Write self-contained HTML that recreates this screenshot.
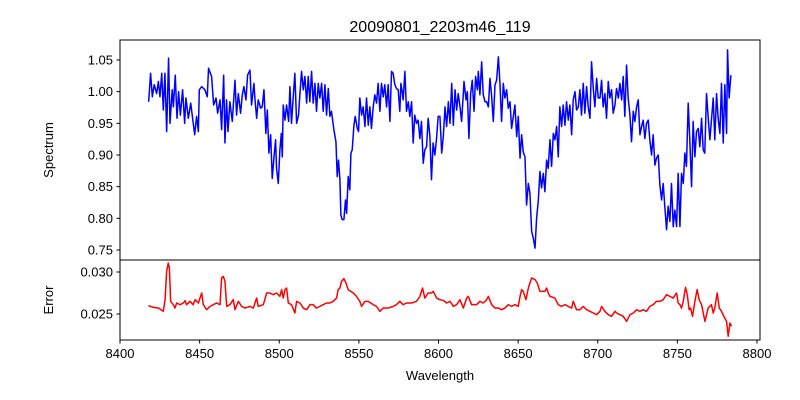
<!DOCTYPE html>
<html><head><meta charset="utf-8"><style>
html,body{margin:0;padding:0;background:#fff;}
svg{display:block;font-family:"Liberation Sans","DejaVu Sans",sans-serif;}
</style></head><body>
<svg id="chart" width="800" height="400" viewBox="0 0 800 400" xmlns="http://www.w3.org/2000/svg">
<rect width="800" height="400" fill="#fff"/>
<text x="440" y="32" text-anchor="middle" font-size="16">20090801_2203m46_119</text>
<text transform="translate(53,150) rotate(-90)" text-anchor="middle" font-size="13">Spectrum</text>
<text transform="translate(53,300) rotate(-90)" text-anchor="middle" font-size="13">Error</text>
<text x="440" y="380" text-anchor="middle" font-size="13">Wavelength</text>
<g id="plots"></g>
</svg>
<script>
const specWavelengths = [8418.0,8419.2,8420.3,8421.5,8423.0,8424.1,8425.1,8426.2,8427.2,8428.2,
8429.3,8430.5,8431.4,8432.8,8433.5,8434.7,8435.8,8436.8,8437.9,8439.3,
8440.6,8441.4,8442.9,8444.4,8445.6,8446.9,8448.1,8449.2,8449.8,8451.3,
8453.3,8454.8,8455.6,8457.5,8458.8,8460.3,8461.3,8462.8,8463.8,8465.1,
8465.9,8466.9,8467.8,8469.0,8470.5,8472.2,8473.2,8474.3,8475.7,8476.8,
8477.8,8479.1,8480.1,8481.6,8482.6,8484.1,8484.7,8485.8,8486.8,8488.3,
8489.3,8490.4,8491.6,8492.5,8493.5,8494.6,8495.6,8496.7,8497.7,8498.3,
8499.4,8500.4,8501.3,8501.9,8502.5,8503.6,8504.6,8505.9,8506.7,8507.7,
8508.8,8509.8,8510.9,8512.1,8513.0,8514.0,8515.1,8516.1,8517.2,8518.2,
8519.2,8520.3,8521.3,8522.4,8523.4,8524.5,8525.5,8526.6,8527.6,8528.7,
8529.7,8530.8,8531.8,8532.8,8534.3,8535.6,8536.4,8537.2,8538.1,8538.7,
8539.5,8540.6,8541.6,8542.3,8543.3,8544.3,8545.0,8545.8,8546.9,8547.7,
8549.0,8549.8,8550.6,8551.7,8552.7,8553.8,8554.8,8555.9,8556.9,8557.9,
8559.0,8560.0,8561.1,8562.1,8563.2,8564.2,8565.3,8566.3,8567.4,8568.4,
8569.5,8570.5,8571.5,8572.6,8573.6,8574.7,8575.7,8576.4,8577.2,8577.8,
8578.9,8579.9,8581.0,8582.0,8583.1,8584.1,8585.1,8586.2,8587.2,8588.3,
8589.3,8590.4,8591.4,8592.5,8593.5,8594.6,8595.6,8596.6,8597.7,8598.7,
8599.8,
8600.9,8602.0,8603.0,8604.1,8605.1,8606.2,8607.2,8608.3,8609.3,8610.4,8611.4,8612.4,8613.5,8614.5,8615.6,
8616.0,8617.3,8618.1,8619.1,8620.2,8621.2,8622.3,8623.3,8624.4,8625.0,8626.0,8627.1,
8628.1,8629.2,8630.2,8631.3,8632.3,8633.4,8634.4,8635.5,8636.5,8637.6,8638.6,8639.6,8640.7,8641.7,8642.8,8643.8,8644.9,8645.9,8647.0,8648.0,8649.1,8650.1,8651.2,8652.2,8653.2,8654.3,8655.3,
8656.4,8657.4,8658.5,8659.5,8660.6,8661.6,8662.7,8663.7,8664.7,8665.8,8666.8,8667.9,8668.9,8670.0,8671.0,8672.1,8673.1,8674.2,8675.2,8676.2,8677.3,8678.3,8679.4,8680.4,8681.5,8682.5,8683.6,8684.6,8685.7,8686.7,8687.8,8688.8,8689.8,8690.9,8691.9,8693.0,8694.0,8695.1,8696.1,
8697.2,8698.2,8699.3,8700.3,8701.4,8702.4,8703.4,8704.5,8705.5,8706.6,8707.6,8708.7,8709.7,8710.8,8711.8,8712.9,8713.9,8715.0,8716.0,8717.0,8718.1,
8719.1,8720.2,8721.2,8722.3,8723.3,8724.4,8725.4,8726.5,8727.5,8728.5,
8729.6,8730.6,8731.7,8732.7,8733.8,8734.8,8735.9,8736.9,8738.0,8739.0,
8740.1,8741.1,8742.1,8743.2,8744.2,8745.3,8746.3,8747.4,8748.4,8749.5,
8750.5,8751.6,8752.6,8753.7,8754.7,8755.7,8756.8,8757.8,8758.9,8759.9,
8761.0,8762.0,8763.1,8764.1,8765.2,8766.2,8767.2,8768.3,8769.3,8770.4,
8771.4,8772.5,8773.5,8774.6,8775.6,8776.7,8777.7,8778.8,8779.8,8780.9,
8781.5,8782.5,8783.6];
const specValues = [0.984,1.029,0.992,1.011,0.997,1.016,0.992,1.029,0.971,1.029,
0.937,1.053,0.950,1.003,0.976,1.026,0.958,1.000,0.963,1.003,
0.950,0.990,0.958,0.982,0.958,0.932,0.961,0.937,1.003,1.008,
1.003,0.992,1.037,1.024,0.979,0.990,0.966,0.987,0.940,1.026,
0.919,0.987,0.937,0.984,0.953,1.018,0.963,0.997,0.966,0.995,
1.008,0.987,1.026,1.034,0.979,1.013,0.990,0.958,0.987,0.974,
0.976,1.003,0.934,0.971,0.903,0.932,0.863,0.897,0.924,0.879,
0.855,0.908,0.934,0.897,0.979,0.955,0.979,0.953,1.008,0.950,
0.992,1.029,0.950,0.963,0.997,1.032,1.003,1.024,0.982,1.024,
0.984,1.032,0.982,1.013,0.969,1.013,0.990,1.013,0.969,1.011,
0.963,1.005,0.961,0.969,0.940,0.921,0.866,0.892,0.861,0.805,
0.798,0.798,0.829,0.808,0.866,0.845,0.903,0.908,0.947,0.961,
0.942,0.937,0.990,0.963,0.976,0.945,0.990,0.947,0.976,0.942,
0.976,0.995,0.982,1.013,0.969,1.013,0.992,1.011,0.976,1.011,
0.953,1.032,1.029,1.011,1.005,1.003,0.969,1.013,1.000,0.987,
1.032,0.969,0.984,0.961,0.984,0.919,0.963,0.950,0.955,0.926,
0.953,0.887,0.908,0.913,0.958,0.929,0.861,0.919,0.900,0.924,
0.961,
0.961,0.903,0.929,0.976,0.945,0.984,0.950,1.013,0.947,1.003,0.971,0.997,0.976,0.953,0.997,
1.016,0.987,1.000,0.926,0.997,1.018,0.969,1.024,1.003,1.032,0.995,1.047,
0.995,0.984,0.984,0.976,1.021,0.992,0.953,1.011,1.018,1.055,1.013,0.953,1.013,0.990,1.003,0.974,0.984,0.942,0.961,0.979,0.929,0.961,0.895,0.932,0.905,0.897,0.821,
0.855,0.840,0.779,0.769,0.753,0.800,0.829,0.874,0.848,0.871,0.842,0.892,0.879,0.924,0.882,0.934,0.924,0.945,0.897,0.976,0.945,0.979,0.947,0.984,0.955,0.979,0.932,0.987,1.000,0.971,0.976,1.003,0.963,1.013,0.966,1.008,0.976,0.958,1.047,
1.005,0.976,1.021,0.990,0.990,1.018,0.976,0.997,0.958,1.016,0.990,1.003,0.966,0.979,1.005,0.990,1.013,0.987,1.024,0.961,1.042,
0.990,0.963,0.921,0.969,0.953,0.976,0.987,0.932,0.945,0.955,
0.926,0.950,0.955,0.924,0.900,0.932,0.884,0.895,0.900,0.853,
0.829,0.855,0.819,0.782,0.819,0.795,0.855,0.787,0.813,0.787,
0.871,0.787,0.871,0.855,0.903,0.882,0.982,0.924,0.850,0.953,
0.897,0.937,0.942,0.913,0.958,0.908,0.903,0.997,0.961,0.924,
0.955,0.990,0.924,0.997,0.958,0.934,1.013,0.919,1.011,0.934,
1.066,0.990,1.026];

const errWavelengths = [8417.8,8421.0,8424.1,8427.2,8428.3,8429.3,8430.3,8431.0,8431.8,8433.5,8434.5,8435.6,8437.7,8439.8,8440.8,8441.8,8443.9,8446.0,8447.1,8449.2,8451.3,8452.3,8454.4,8456.5,8458.6,8460.7,8462.8,8463.8,8464.9,8465.9,8467.0,8469.0,8471.1,8472.2,8474.3,8476.4,8478.5,8481.6,8483.7,8485.8,8486.8,8490.0,8492.1,8494.1,8496.2,8498.3,8500.4,8501.5,8502.5,8503.6,8504.6,8505.7,8507.7,8509.8,8510.9,8513.0,8515.1,8517.2,8519.3,8521.3,8523.4,8525.5,8527.6,8529.7,8531.8,8533.9,8536.0,8537.0,8538.1,8539.1,8540.6,8541.9,8543.3,8546.5,8548.5,8550.6,8551.7,8553.8,8555.9,8559.0,8561.1,8563.2,8565.3,8568.4,8571.5,8573.6,8575.7,8577.8,8579.9,8583.1,8586.2,8588.3,8590.0,8591.4,8593.5,8595.6,8596.7,8598.8,
8600.9,8603.0,8605.1,8607.2,8609.3,8611.4,8613.5,8615.6,8617.7,8618.7,8620.8,8623.9,8626.0,8628.1,8630.2,8631.3,8633.4,8635.5,8637.6,8639.6,8641.7,8643.8,8645.9,8648.0,8650.1,8651.2,8652.2,8653.2,8654.9,8656.4,8657.4,8658.5,8660.6,8662.0,8663.7,8664.7,8666.8,8667.9,8668.9,8670.0,8673.1,8675.2,8677.3,8679.4,8681.5,8683.6,8684.6,8686.7,8688.8,8690.9,8693.0,8695.1,8697.2,8699.3,8701.4,8702.4,8704.5,8706.6,8708.7,8710.8,8711.8,8713.9,8716.0,8718.1,8720.2,8722.3,8724.4,8726.5,8728.5,8730.6,8732.7,8734.8,8736.9,8739.0,8741.1,8743.2,8745.3,8747.4,8749.5,8750.5,8751.6,8752.6,8753.7,8755.1,8756.2,8757.4,8758.3,8759.5,8761.0,8762.4,8763.7,8765.2,8767.3,8769.3,8771.4,8772.5,8773.5,8775.0,8776.3,8777.7,8779.2,8780.9,8781.9,8783.0,8784.0];
const errValues = [0.02599,0.02579,0.02571,0.02532,0.02670,0.03008,0.03107,0.03048,0.02651,0.02611,0.02571,0.02631,0.02611,0.02631,0.02659,0.02611,0.02651,0.02611,0.02670,0.02631,0.02750,0.02611,0.02551,0.02591,0.02611,0.02631,0.02611,0.02929,0.02948,0.02889,0.02591,0.02611,0.02670,0.02551,0.02651,0.02591,0.02571,0.02591,0.02571,0.02690,0.02591,0.02611,0.02750,0.02750,0.02730,0.02750,0.02710,0.02790,0.02690,0.02790,0.02809,0.02631,0.02611,0.02512,0.02651,0.02631,0.02571,0.02551,0.02611,0.02611,0.02571,0.02591,0.02611,0.02631,0.02631,0.02651,0.02690,0.02790,0.02809,0.02889,0.02921,0.02869,0.02790,0.02750,0.02710,0.02651,0.02591,0.02651,0.02651,0.02611,0.02591,0.02532,0.02571,0.02571,0.02591,0.02611,0.02651,0.02611,0.02631,0.02631,0.02651,0.02710,0.02809,0.02690,0.02750,0.02750,0.02770,0.02690,
0.02670,0.02663,0.02631,0.02651,0.02591,0.02611,0.02670,0.02571,0.02690,0.02710,0.02611,0.02611,0.02651,0.02631,0.02670,0.02710,0.02611,0.02571,0.02571,0.02551,0.02571,0.02611,0.02591,0.02611,0.02591,0.02710,0.02790,0.02770,0.02670,0.02809,0.02869,0.02929,0.02909,0.02869,0.02770,0.02770,0.02770,0.02809,0.02750,0.02710,0.02690,0.02611,0.02591,0.02611,0.02591,0.02571,0.02651,0.02551,0.02551,0.02591,0.02551,0.02532,0.02512,0.02492,0.02532,0.02591,0.02532,0.02492,0.02472,0.02532,0.02512,0.02492,0.02472,0.02412,0.02492,0.02512,0.02551,0.02532,0.02551,0.02532,0.02591,0.02611,0.02651,0.02651,0.02670,0.02730,0.02710,0.02690,0.02750,0.02631,0.02611,0.02571,0.02651,0.02817,0.02730,0.02551,0.02571,0.02472,0.02651,0.02790,0.02670,0.02611,0.02412,0.02571,0.02611,0.02512,0.02571,0.02750,0.02571,0.02532,0.02472,0.02412,0.02234,0.02393,0.02353];

const xTicks = [8400,8450,8500,8550,8600,8650,8700,8750,8800];
const specTicks = [0.75,0.80,0.85,0.90,0.95,1.00,1.05];
const specTickLabels = ["0.75","0.80","0.85","0.90","0.95","1.00","1.05"];
const errTicks = [0.025,0.030];
const errTickLabels = ["0.025","0.030"];

const NS = "http://www.w3.org/2000/svg";
const g = document.getElementById("plots");
const L = 120, R = 760, T1 = 40, B1 = 260, T2 = 260, B2 = 340;
function xS(w){ return 120 + (w - 8400) * (637 / 400); }
function yS(v){ return 60 + (1.05 - v) * (190 / 0.30); }
function yE(v){ return 272 + (0.030 - v) * (42 / 0.005); }
function mk(tag, attrs){ const e = document.createElementNS(NS, tag); for (const k in attrs) e.setAttribute(k, attrs[k]); g.appendChild(e); return e; }

let d = specValues.map((v,i)=>(i?"L":"M")+xS(specWavelengths[i]).toFixed(2)+","+yS(v).toFixed(2)).join("");
let p = mk("path",{d:d,fill:"none",stroke:"#0000ff","stroke-width":1.5,"stroke-linejoin":"round"});


d = errValues.map((v,i)=>(i?"L":"M")+xS(errWavelengths[i]).toFixed(2)+","+yE(v).toFixed(2)).join("");
p = mk("path",{d:d,fill:"none",stroke:"#ff0000","stroke-width":1.5,"stroke-linejoin":"round"});



let f = mk("rect",{x:L,y:T1,width:R-L,height:B1-T1,fill:"none",stroke:"#000","stroke-width":1});


f = mk("rect",{x:L,y:T2,width:R-L,height:B2-T2,fill:"none",stroke:"#000","stroke-width":1});



specTicks.forEach((v,i)=>{
  const y = yS(v);
  const t = mk("line",{x1:L-3.5,x2:L,y1:y,y2:y,stroke:"#000","stroke-width":1});
  
  
  const tx = mk("text",{x:L-7,y:y+4.5,"text-anchor":"end","font-size":13});
  tx.textContent = specTickLabels[i];
  
  
});
errTicks.forEach((v,i)=>{
  const y = yE(v);
  const t = mk("line",{x1:L-3.5,x2:L,y1:y,y2:y,stroke:"#000","stroke-width":1});
  
  
  const tx = mk("text",{x:L-7,y:y+4.5,"text-anchor":"end","font-size":13});
  tx.textContent = errTickLabels[i];
  
  
});
xTicks.forEach(w=>{
  const x = xS(w);
  const t = mk("line",{x1:x,x2:x,y1:B2,y2:B2+3.5,stroke:"#000","stroke-width":1});
  
  
  const tx = mk("text",{x:x,y:B2+18,"text-anchor":"middle","font-size":13});
  tx.textContent = String(w);
  
  
});
</script>
</body></html>
